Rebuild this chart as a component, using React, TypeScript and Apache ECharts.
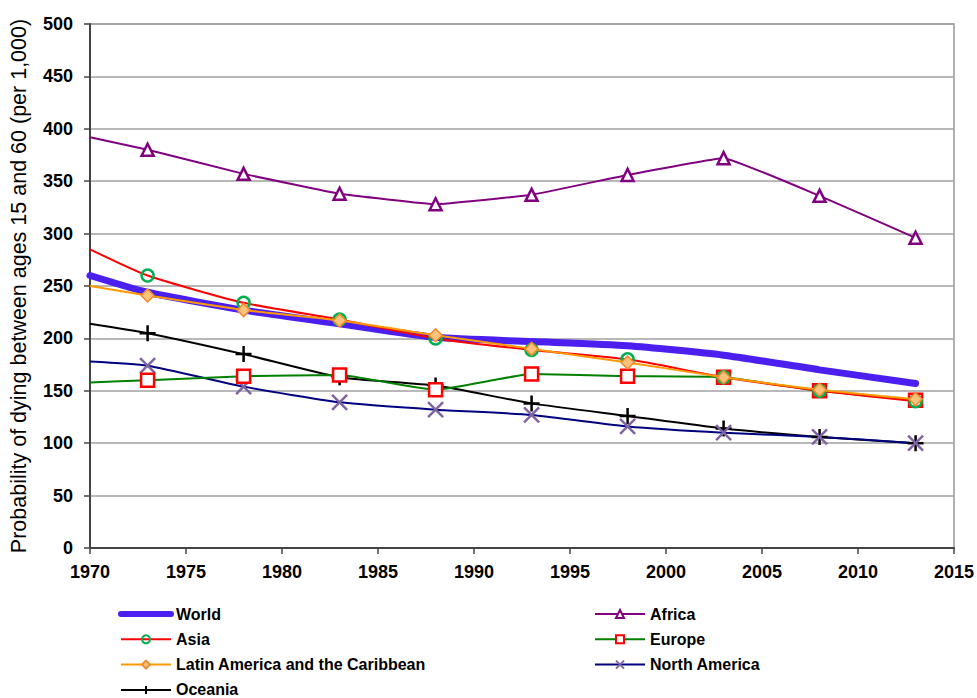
import React, { useEffect, useRef } from "react";
import * as echarts from "echarts";

const years = [1970, 1973, 1978, 1983, 1988, 1993, 1998, 2003, 2008, 2013];
const world = [260, 244, 227, 214, 201, 197, 193, 184, 170, 157];
const africa = [392, 380, 357, 338, 328, 337, 356, 372, 336, 296];
const asia = [285, 260, 234, 218, 200, 189, 180, 163, 150, 140];
const europe = [158, 160, 164, 165, 151, 166, 164, 163, 150, 141];
const latinAmerica = [250, 241, 227, 217, 203, 190, 177, 163, 151, 142];
const northAmerica = [178, 174, 154, 139, 132, 127, 116, 110, 106, 100];
const oceania = [214, 205, 185, 163, 155, 138, 126, 114, 106, 100];
const yTicks = [0, 50, 100, 150, 200, 250, 300, 350, 400, 450, 500];
const xTicks = [1970, 1975, 1980, 1985, 1990, 1995, 2000, 2005, 2010, 2015];

const FONT = "'Liberation Sans', Arial, sans-serif";
const X_SYMBOL = "path://M0,0 L10,10 M10,0 L0,10";
const PLUS_SYMBOL = "path://M5,0 L5,10 M0,5 L10,5";

function toData(vals: number[]) {
  return vals.map((v, i) =>
    i === 0 ? { value: [years[i], v], symbol: "none" } : { value: [years[i], v] }
  );
}

export default function App() {
  const ref = useRef<HTMLDivElement>(null);
  useEffect(() => {
    if (!ref.current) return;
    const chart = echarts.init(ref.current, undefined, { renderer: "svg" });
    const base = {
      type: "line",
      smooth: 0.2,
      animation: false,
      emphasis: { disabled: true },
      z: 2,
    };
    const legendCommon = {
      orient: "vertical",
      top: 606,
      height: 120,
      padding: 0,
      itemWidth: 50,
      itemHeight: 10,
      itemGap: 9.3,
      textStyle: { color: "#000", fontFamily: FONT, fontWeight: "bold", fontSize: 16 },
    };
    chart.setOption({
      animation: false,
      backgroundColor: "#fff",
      grid: {
        left: 90,
        right: 23,
        top: 24,
        bottom: 150,
        show: true,
        borderColor: "#999",
        borderWidth: 1.5,
      },
      xAxis: {
        type: "value",
        min: xTicks[0],
        max: xTicks[xTicks.length - 1],
        interval: 5,
        axisLine: { show: true, lineStyle: { color: "#444", width: 2 } },
        axisTick: { show: true, length: 6, lineStyle: { color: "#444", width: 1.5 } },
        splitLine: { show: false },
        axisLabel: {
          color: "#000",
          fontFamily: FONT,
          fontWeight: "bold",
          fontSize: 18,
          margin: 15,
          formatter: (v: number) => String(v),
        },
      },
      yAxis: {
        type: "value",
        min: yTicks[0],
        max: yTicks[yTicks.length - 1],
        interval: 50,
        name: "Probability of dying between ages 15 and 60 (per 1,000)",
        nameLocation: "middle",
        nameRotate: 90,
        nameGap: 60,
        nameTextStyle: { color: "#000", fontFamily: FONT, fontSize: 21.5, padding: [0, 0, 0, 0] },
        axisLine: { show: true, lineStyle: { color: "#444", width: 2 } },
        axisTick: { show: true, inside: false, length: 6, lineStyle: { color: "#444", width: 1.5 } },
        splitLine: { show: true, lineStyle: { color: "#a0a0a0", width: 1.5 } },
        axisLabel: {
          color: "#000",
          fontFamily: FONT,
          fontWeight: "bold",
          fontSize: 18,
          margin: 17,
          formatter: (v: number) => String(v),
        },
      },
      legend: [
        {
          ...legendCommon,
          left: 118,
          data: [
            { name: "World", itemStyle: { opacity: 0 }, lineStyle: { width: 6, cap: "round" } },
            "Asia",
            "Latin America and the Caribbean",
            "Oceania",
          ],
        },
        {
          ...legendCommon,
          left: 594,
          data: ["Africa", "Europe", "North America"],
        },
      ],
      series: [
        {
          ...base,
          name: "Africa",
          smooth: 0.08,
          data: toData(africa),
          symbol: "triangle",
          symbolSize: 12,
          color: "#800080",
          lineStyle: { color: "#800080", width: 2 },
          itemStyle: { color: "#fff", borderColor: "#800080", borderWidth: 2.5 },
        },
        {
          ...base,
          name: "Oceania",
          data: toData(oceania),
          symbol: PLUS_SYMBOL,
          symbolSize: 16,
          color: "#000",
          lineStyle: { color: "#000", width: 2 },
          itemStyle: { color: "#000", borderColor: "#000", borderWidth: 2.5 },
        },
        {
          ...base,
          name: "North America",
          data: toData(northAmerica),
          symbol: X_SYMBOL,
          symbolSize: 15,
          color: "#000080",
          lineStyle: { color: "#000080", width: 2 },
          itemStyle: { color: "#8064a2", borderColor: "#8064a2", borderWidth: 2.5 },
        },
        {
          ...base,
          name: "Europe",
          smooth: 0.12,
          data: toData(europe),
          symbol: "rect",
          symbolSize: 13,
          color: "#008000",
          lineStyle: { color: "#008000", width: 2 },
          itemStyle: { color: "#fff", borderColor: "#ff0000", borderWidth: 2.5, opacity: 1 },
        },
        {
          ...base,
          name: "World",
          data: world.map((v, i) => [years[i], v]),
          showSymbol: false,
          symbol: "none",
          color: "#4a1ff0",
          lineStyle: { color: "#4a1ff0", width: 7, cap: "round" },
          z: 3,
        },
        {
          ...base,
          name: "Asia",
          data: toData(asia),
          symbol: "circle",
          symbolSize: 12,
          color: "#ff0000",
          lineStyle: { color: "#ff0000", width: 2 },
          itemStyle: { color: "rgba(255,255,255,0)", borderColor: "#00b050", borderWidth: 2.5 },
          z: 4,
        },
        {
          ...base,
          name: "Latin America and the Caribbean",
          data: toData(latinAmerica),
          symbol: "diamond",
          symbolSize: 13,
          color: "#ff9900",
          lineStyle: { color: "#ff9900", width: 2 },
          itemStyle: { color: "#ffc27a", borderColor: "#f08a30", borderWidth: 1.5 },
          z: 5,
        },
      ],
    });
    return () => chart.dispose();
  }, []);
  return <div ref={ref} style={{ width: 977, height: 698, position: "absolute", left: 0, top: 0 }} />;
}
